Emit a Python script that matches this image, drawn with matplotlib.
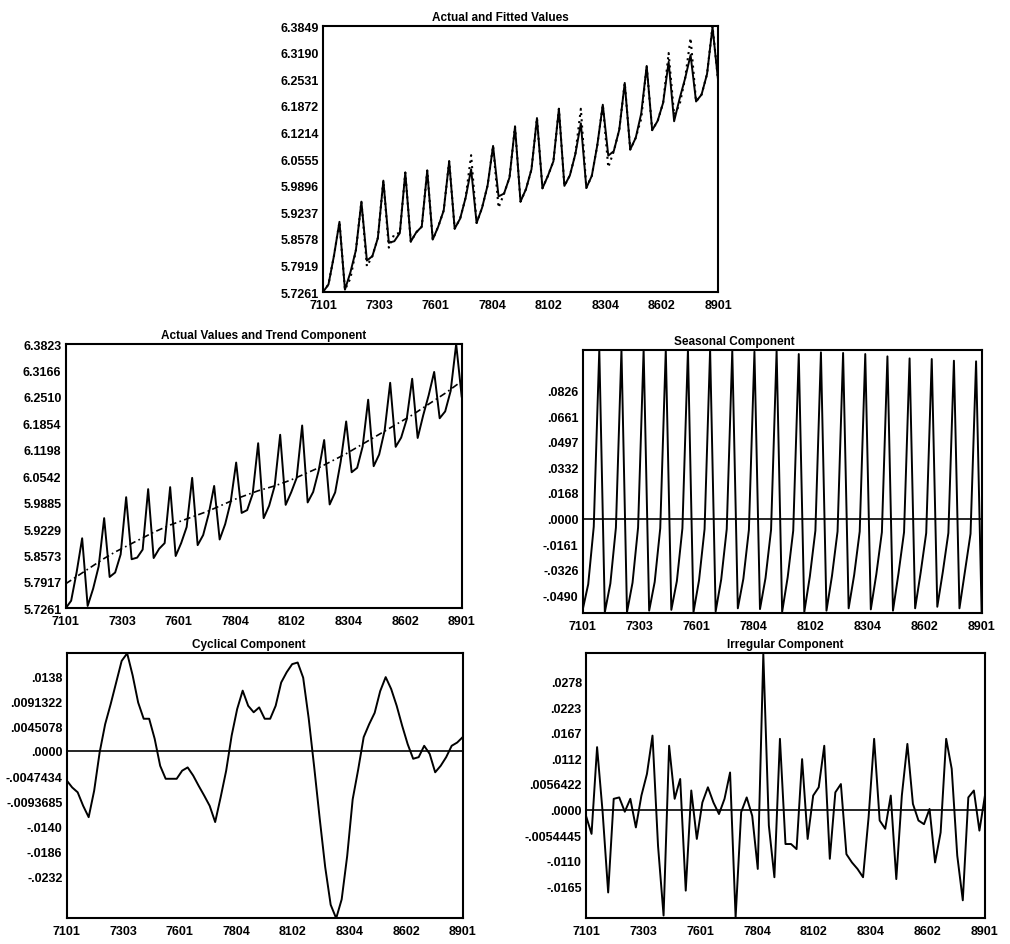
import numpy as np
import matplotlib
matplotlib.use('Agg')
import matplotlib.pyplot as plt

plt.rcParams['font.family'] = ['Liberation Sans Narrow', 'Liberation Sans', 'DejaVu Sans']
plt.rcParams['font.weight'] = 'bold'

# quarterly data 1971Q1 .. 1989Q1 (log scale)
xlabels = ['7101', '7303', '7601', '7804', '8102', '8304', '8602', '8901']

actual = [5.7261, 5.745, 5.816, 5.900, 5.732, 5.775, 5.830, 5.950, 5.804, 5.815,
          5.860, 6.002, 5.848, 5.852, 5.872, 6.022, 5.851, 5.874, 5.888, 6.027,
          5.856, 5.888, 5.928, 6.050, 5.883, 5.908, 5.960, 6.030, 5.897, 5.935,
          5.990, 6.088, 5.963, 5.970, 6.010, 6.136, 5.950, 5.981, 6.030, 6.157,
          5.983, 6.014, 6.050, 6.180, 5.989, 6.015, 6.068, 6.144, 5.984, 6.014,
          6.090, 6.190, 6.064, 6.075, 6.128, 6.244, 6.079, 6.108, 6.168, 6.286,
          6.127, 6.150, 6.195, 6.296, 6.149, 6.205, 6.255, 6.313, 6.198, 6.215,
          6.266, 6.3823, 6.252]

fitted = [5.7261, 5.745, 5.816, 5.900, 5.732, 5.760, 5.830, 5.950, 5.790, 5.815,
          5.860, 6.002, 5.836, 5.870, 5.872, 6.022, 5.851, 5.874, 5.888, 6.027,
          5.856, 5.888, 5.928, 6.050, 5.883, 5.908, 5.960, 6.065, 5.897, 5.935,
          5.990, 6.088, 5.935, 5.970, 6.010, 6.136, 5.950, 5.981, 6.030, 6.157,
          5.983, 6.014, 6.050, 6.180, 5.989, 6.015, 6.068, 6.180, 5.984, 6.014,
          6.090, 6.190, 6.035, 6.075, 6.128, 6.244, 6.079, 6.108, 6.155, 6.286,
          6.127, 6.150, 6.195, 6.318, 6.165, 6.190, 6.255, 6.355, 6.198, 6.215,
          6.266, 6.3849, 6.252]

trend = [5.787, 5.796, 5.805, 5.814, 5.823, 5.832, 5.841, 5.850, 5.858, 5.866,
         5.873, 5.880, 5.887, 5.894, 5.901, 5.908, 5.915, 5.921, 5.927, 5.933,
         5.938, 5.943, 5.948, 5.953, 5.958, 5.963, 5.968, 5.974, 5.980, 5.986,
         5.992, 5.998, 6.003, 6.008, 6.013, 6.018, 6.022, 6.026, 6.030, 6.035,
         6.040, 6.045, 6.051, 6.057, 6.063, 6.069, 6.075, 6.082, 6.089, 6.096,
         6.103, 6.110, 6.118, 6.126, 6.134, 6.142, 6.150, 6.158, 6.166, 6.174,
         6.182, 6.190, 6.198, 6.206, 6.215, 6.224, 6.233, 6.242, 6.251, 6.260,
         6.270, 6.280, 6.290]

seasonal = [-0.0585, -0.0420, -0.0050, 0.1090, -0.0600, -0.0415, -0.0055, 0.1090,
            -0.0600, -0.0410, -0.0055, 0.1090, -0.0590, -0.0405, -0.0060, 0.1090,
            -0.0585, -0.0400, -0.0060, 0.1090, -0.0600, -0.0395, -0.0065, 0.1090,
            -0.0595, -0.0390, -0.0065, 0.1084, -0.0575, -0.0385, -0.0070, 0.1077,
            -0.0580, -0.0380, -0.0070, 0.1084, -0.0598, -0.0375, -0.0075, 0.1062,
            -0.0598, -0.0370, -0.0075, 0.1073, -0.0590, -0.0365, -0.0080, 0.1069,
            -0.0575, -0.0360, -0.0080, 0.1062, -0.0582, -0.0355, -0.0085, 0.1047,
            -0.0590, -0.0350, -0.0085, 0.1034, -0.0575, -0.0345, -0.0090, 0.1030,
            -0.0565, -0.0340, -0.0090, 0.1019, -0.0575, -0.0335, -0.0095, 0.1015,
            -0.0598]

cyclical = [-0.0055, -0.0068, -0.0077, -0.0102, -0.0123, -0.0074, -0.0003, 0.0049,
            0.0086, 0.0126, 0.0166, 0.0180, 0.0139, 0.0089, 0.0059, 0.0059,
            0.0022, -0.0028, -0.0052, -0.0052, -0.0052, -0.0037, -0.0031, -0.0046,
            -0.0065, -0.0083, -0.0102, -0.0132, -0.0086, -0.0037, 0.0028, 0.0077,
            0.0111, 0.0083, 0.0071, 0.0080, 0.0059, 0.0059, 0.0083, 0.0126,
            0.0145, 0.0160, 0.0163, 0.0135, 0.0060, -0.0030, -0.0125, -0.0215,
            -0.0285, -0.0310, -0.0275, -0.0195, -0.0090, -0.0035, 0.0025, 0.0049,
            0.0070, 0.0110, 0.0136, 0.0114, 0.0083, 0.0046, 0.0012, -0.0015,
            -0.0012, 0.0009, -0.0006, -0.0040, -0.0028, -0.0012, 0.0009, 0.0015,
            0.0025]

irregular = [-0.0013, -0.0052, 0.0136, -0.0005, -0.0179, 0.0024, 0.0027, -0.0004,
             0.0024, -0.0038, 0.0031, 0.0078, 0.0161, -0.0078, -0.0229, 0.0139,
             0.0024, 0.0067, -0.0175, 0.0042, -0.0063, 0.0016, 0.0049, 0.0016,
             -0.0009, 0.0024, 0.0081, -0.0233, -0.0005, 0.0027, -0.0013, -0.0128,
             0.0338, -0.0034, -0.0146, 0.0154, -0.0074, -0.0074, -0.0085, 0.0110,
             -0.0063, 0.0031, 0.0049, 0.0139, -0.0106, 0.0038, 0.0056, -0.0096,
             -0.0114, -0.0128, -0.0146, -0.0016, 0.0154, -0.0023, -0.0041, 0.0031,
             -0.0150, 0.0031, 0.0143, 0.0013, -0.0023, -0.0031, 0.0002, -0.0114,
             -0.0049, 0.0154, 0.0089, -0.0099, -0.0196, 0.0027, 0.0042, -0.0045,
             0.0031]

fit_ticks = ['5.7261', '5.7919', '5.8578', '5.9237', '5.9896', '6.0555',
             '6.1214', '6.1872', '6.2531', '6.3190', '6.3849']
trend_ticks = ['5.7261', '5.7917', '5.8573', '5.9229', '5.9885', '6.0542',
               '6.1198', '6.1854', '6.2510', '6.3166', '6.3823']
seas_ticks = ['-.0490', '-.0326', '-.0161', '.0000', '.0168', '.0332',
              '.0497', '.0661', '.0826']
cyc_ticks = ['-.0232', '-.0186', '-.0140', '-.0093685', '-.0047434', '.0000',
             '.0045078', '.0091322', '.0138']
irr_ticks = ['-.0165', '-.0110', '-.0054445', '.0000', '.0056422', '.0112',
             '.0167', '.0223', '.0278']

t = np.arange(len(actual))


def setup(ax, title, tx, ylim, ylabels):
    ax.set_xlim(0, len(actual) - 1)
    ax.set_ylim(*ylim)
    ax.set_yticks([float(s) for s in ylabels])
    ax.set_yticklabels(ylabels, fontsize=9, fontweight='bold')
    ax.set_xticks(np.linspace(0, len(actual) - 1, len(xlabels)))
    ax.set_xticklabels(xlabels, fontsize=9, fontweight='bold')
    ax.tick_params(axis='y', length=0, pad=3)
    ax.tick_params(axis='x', length=0, pad=5)
    for s in ax.spines.values():
        s.set_linewidth(1.5)
    ax.text(tx, 1.012, title, transform=ax.transAxes, ha='center', va='bottom',
            fontsize=8.5, fontweight='bold')


fig = plt.figure(figsize=(10.1, 9.45), dpi=100)

ax1 = fig.add_axes([0.3198, 0.6899, 0.3911, 0.2815])
ax1.plot(t, fitted, color='black', lw=1.5, linestyle=(0, (1, 2)))
ax1.plot(t, actual, color='black', lw=1.4)
setup(ax1, 'Actual and Fitted Values', 0.45, (5.7261, 6.3849), fit_ticks)

ax2 = fig.add_axes([0.0650, 0.3552, 0.3921, 0.2797])
ax2.plot(t, actual, color='black', lw=1.4)
ax2.plot(t, trend, color='black', lw=1.2, linestyle=(0, (4, 2, 1, 2)))
setup(ax2, 'Actual Values and Trend Component', 0.5, (5.7261, 6.3823), trend_ticks)

ax3 = fig.add_axes([0.5769, 0.3503, 0.3950, 0.2786])
ax3.plot(t, seasonal, color='black', lw=1.4)
ax3.axhline(0, color='black', lw=1.2)
setup(ax3, 'Seasonal Component', 0.38, (-0.0605, 0.109), seas_ticks)

ax4 = fig.add_axes([0.0660, 0.0272, 0.3921, 0.2804])
ax4.plot(t, cyclical, color='black', lw=1.4)
ax4.axhline(0, color='black', lw=1.2)
setup(ax4, 'Cyclical Component', 0.46, (-0.0310, 0.0180), cyc_ticks)

ax5 = fig.add_axes([0.5802, 0.0272, 0.3950, 0.2807])
ax5.plot(t, irregular, color='black', lw=1.4)
ax5.axhline(0, color='black', lw=1.2)
setup(ax5, 'Irregular Component', 0.5, (-0.0235, 0.0340), irr_ticks)

plt.savefig('out.png', dpi=100)
plt.close()
